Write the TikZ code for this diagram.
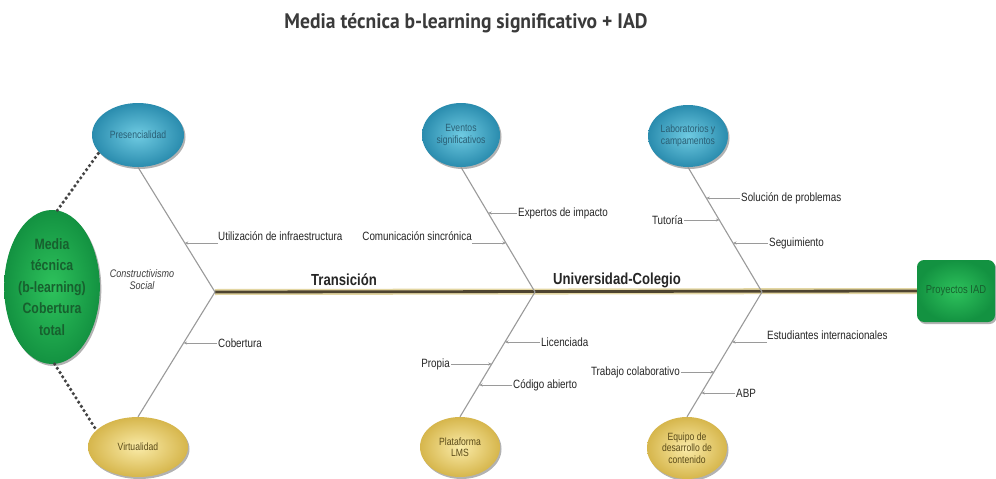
\documentclass[tikz,border=0pt]{standalone}
\usepackage{graphicx}
\usepackage{fontspec}
\setmainfont{Liberation Sans}[FakeStretch=0.82]
\newfontfamily\titlefont{PT Sans}[FakeStretch=0.9]
\usetikzlibrary{arrows.meta,shapes.geometric,shadows}

\definecolor{bluein}{HTML}{6FCBE2}
\definecolor{blueout}{HTML}{2A8CAE}
\definecolor{bluetext}{HTML}{2A5E74}
\definecolor{yellin}{HTML}{FAEBA8}
\definecolor{yellout}{HTML}{D6B64C}
\definecolor{yelltext}{HTML}{5A4A18}
\definecolor{greenin}{HTML}{2EC25C}
\definecolor{greenout}{HTML}{139241}
\definecolor{greentext}{HTML}{17602E}
\definecolor{bonegray}{HTML}{9A9A9A}
\definecolor{spinedark}{HTML}{4E4430}
\definecolor{spinelight}{HTML}{E3D6A2}
\definecolor{labeltext}{HTML}{262626}
\definecolor{dotgray}{HTML}{444444}

\tikzset{
  softshadow/.style={drop shadow={shadow xshift=1.5pt,shadow yshift=-2pt,opacity=0.3,fill=black}},
  topcause/.style={ellipse, inner sep=0pt, align=center, softshadow,
    inner color=bluein, outer color=blueout, text=bluetext,
    font=\fontsize{10.5}{11.5}\selectfont},
  botcause/.style={ellipse, inner sep=0pt, align=center, softshadow,
    inner color=yellin, outer color=yellout, text=yelltext,
    font=\fontsize{10.5}{11.5}\selectfont},
  bonestyle/.style={draw=bonegray, line width=1.1pt},
  subcause/.style={draw=bonegray, line width=0.9pt, -{Stealth[length=3.5pt,width=3pt]}},
  sublabel/.style={text=labeltext, inner sep=1pt, font=\fontsize{12}{14}\selectfont},
  ullabel/.style={text=labeltext, inner xsep=0pt, inner ysep=2pt, font=\fontsize{12}{14}\selectfont},
  dotlink/.style={draw=dotgray, line width=3.6pt, line cap=round, dash pattern=on 0pt off 5pt},
  spinetitle/.style={text=labeltext, font=\fontsize{16}{18}\selectfont\bfseries}
}

\begin{document}
\begin{tikzpicture}[x=1pt,y=-1pt]
  \useasboundingbox[fill=white] (0,0) rectangle (996,479);

  % title
  \node (title) at (466,23) {\resizebox{363pt}{\height}{\titlefont\bfseries\fontsize{21}{24}\selectfont\color[HTML]{3A3A3A}Media técnica b-learning significativo + IAD}};

  % head and effect
  \node[ellipse, inner sep=0pt, minimum width=90pt, minimum height=154pt, softshadow,
        inner color=greenin, outer color=greenout, text=greentext, align=center,
        font=\fontsize{15}{21.5}\selectfont\bfseries] (media) at (52,287)
        {Media\\técnica\\(b-learning)\\Cobertura\\total};
  \node[rectangle, rounded corners=7pt, minimum width=78pt, minimum height=62pt, softshadow,
        inner color=greenin, outer color=greenout, text=greentext,
        font=\fontsize{11.5}{13}\selectfont] (proj) at (956,291) {Proyectos IAD};

  % cause ellipses
  \node[topcause, minimum width=92pt, minimum height=64pt] (pres) at (138,135) {Presencialidad};
  \node[botcause, minimum width=100pt, minimum height=60pt] (virt) at (138,447) {Virtualidad};
  \node[topcause, minimum width=78pt, minimum height=64pt] (even) at (461,135) {Eventos\\significativos};
  \node[botcause, minimum width=80pt, minimum height=60pt] (plat) at (460,447) {Plataforma\\LMS};
  \node[topcause, minimum width=80pt, minimum height=62pt] (labs) at (688,136) {Laboratorios y\\campamentos};
  \node[botcause, minimum width=80pt, minimum height=62pt] (equi) at (687,448) {Equipo de\\desarrollo de\\contenido};

  % junctions on the spine
  \coordinate (j1) at (215,292);
  \coordinate (j2) at (535,292);
  \coordinate (j3) at (762,292);

  % spine
  \draw[spinelight, line width=6pt] (j1) -- (proj.west);
  \draw[spinedark, line width=2.8pt] (j1) -- (proj.west);

  % dotted links from the head
  \draw[dotlink] (media.86) -- (pres.204);
  \draw[dotlink] (media.272) -- (virt.158);

  % bones
  \draw[bonestyle] (pres.south) -- (j1) -- (virt.north);
  \draw[bonestyle] (even.south) -- (j2) -- (plat.north);
  \draw[bonestyle] (labs.south) -- (j3) -- (equi.north);

  % spine labels
  \node[spinetitle] (tran) at (344,280) {Transición};
  \node[spinetitle] (univ) at (617,280) {Universidad-Colegio};
  \node[text=labeltext!90, align=center, font=\fontsize{11}{12}\selectfont\itshape] (cons) at (142,280) {Constructivismo\\Social};

  % points where sub-causes meet the bones
  \coordinate (a1) at (184.8,243);
  \coordinate (a2) at (183.6,343);
  \coordinate (b1) at (488.2,213);
  \coordinate (b2) at (506,243);
  \coordinate (c1) at (505,342);
  \coordinate (c2) at (491.8,364);
  \coordinate (c3) at (479.2,385);
  \coordinate (d1) at (706.4,198);
  \coordinate (d2) at (719.4,220);
  \coordinate (d3) at (733,243);
  \coordinate (e1) at (732,342);
  \coordinate (e2) at (714,372);
  \coordinate (e3) at (701.4,393);

  % sub-causes
  \node[ullabel, anchor=south west] (util) at (218,243) {Utilización de infraestructura};
  \draw[subcause] (util.south west) -- (a1);
  \node[sublabel, anchor=west] (cobe) at (217,343) {Cobertura};
  \draw[subcause] (cobe.west) -- (a2);

  \node[sublabel, anchor=west] (expe) at (517,213) {Expertos de impacto};
  \draw[subcause] (expe.west) -- (b1);
  \node[ullabel, anchor=south east] (comu) at (472,243) {Comunicación sincrónica};
  \draw[subcause] (comu.south east) -- (b2);

  \node[sublabel, anchor=west] (lice) at (540,342) {Licenciada};
  \draw[subcause] (lice.west) -- (c1);
  \node[sublabel, anchor=east] (prop) at (451,364) {Propia};
  \draw[subcause] (prop.east) -- (c2);
  \node[sublabel, anchor=west] (codi) at (512,385) {Código abierto};
  \draw[subcause] (codi.west) -- (c3);

  \node[sublabel, anchor=west] (solu) at (740,198) {Solución de problemas};
  \draw[subcause] (solu.west) -- (d1);
  \node[sublabel, anchor=east] (tuto) at (684,220) {Tutoría};
  \draw[subcause] (tuto.east) -- (d2);
  \node[sublabel, anchor=west] (segu) at (768,243) {Seguimiento};
  \draw[subcause] (segu.west) -- (d3);

  \node[ullabel, anchor=south west] (estu) at (767,342) {Estudiantes internacionales};
  \draw[subcause] (estu.south west) -- (e1);
  \node[sublabel, anchor=east] (trab) at (681,372) {Trabajo colaborativo};
  \draw[subcause] (trab.east) -- (e2);
  \node[sublabel, anchor=west] (abp) at (735,393) {ABP};
  \draw[subcause] (abp.west) -- (e3);
\end{tikzpicture}
\end{document}
